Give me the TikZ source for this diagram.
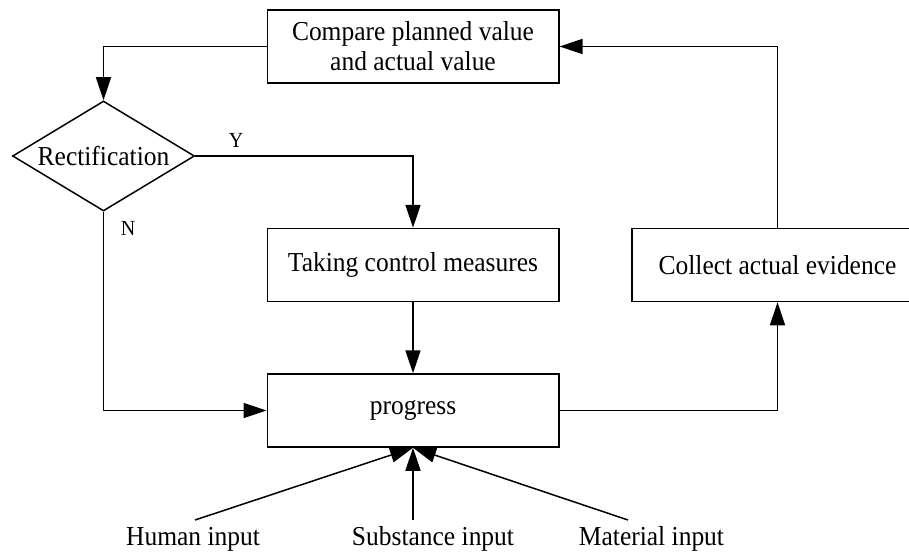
\documentclass[tikz,border=0pt]{standalone}
\usepackage{fontspec}
\setmainfont[FakeStretch=0.93]{Liberation Serif}
\usetikzlibrary{shapes.geometric,arrows.meta}

\begin{document}
\begin{tikzpicture}[x=1pt,y=-1pt,line width=1.5pt,
        >={Triangle[length=23pt,width=15pt]},
        box/.style={draw,minimum width=291.5pt,minimum height=73pt,inner sep=0pt,align=center,font=\fontsize{27.4}{30}\selectfont},
        lab/.style={inner sep=0pt,font=\fontsize{21.5}{24}\selectfont}]
        \useasboundingbox (0,0) rectangle (909,559);
        \clip (0,0) rectangle (909,559);

        \node[box] (cmp) at (413,46.5) {Compare planned value\\and actual value};
        \node[draw,diamond,aspect=1.65,minimum width=182pt,minimum height=110pt,inner sep=0pt,font=\fontsize{27.4}{30}\selectfont] (rect) at (103.5,156) {Rectification};
        \node[box] (ctrl) at (413,265) {Taking control measures};
        \node[box] (col) at (777.5,265) {Collect actual evidence};
        \node[box] (prog) at (413,410.5) {progress};

        \draw[->] (cmp.west) -| (rect.north);
        \draw[->] (rect.east) -| (ctrl.north);
        \draw[->] (rect.south) |- (prog.west);
        \draw[->] (ctrl) -- (prog);
        \draw[->] (prog.east) -| (col.south);
        \draw[->] (col.north) |- (cmp.east);
        \node[lab] (y) at (236,140) {Y};
        \node[lab] (n) at (128,228) {N};

        \foreach \nm/\x/\tx/\txt in {hum/195/193/Human input,sub/413/433/Substance input,mat/628/651.5/Material input}{
            \node[anchor=base,inner sep=0pt,font=\fontsize{27.4}{30}\selectfont] (\nm) at (\tx,545) {\txt};
            \coordinate (\nm-s) at (\x,520);
            \draw[->] (\nm-s) -- (prog.south);
        }
    \end{tikzpicture}
\end{document}
